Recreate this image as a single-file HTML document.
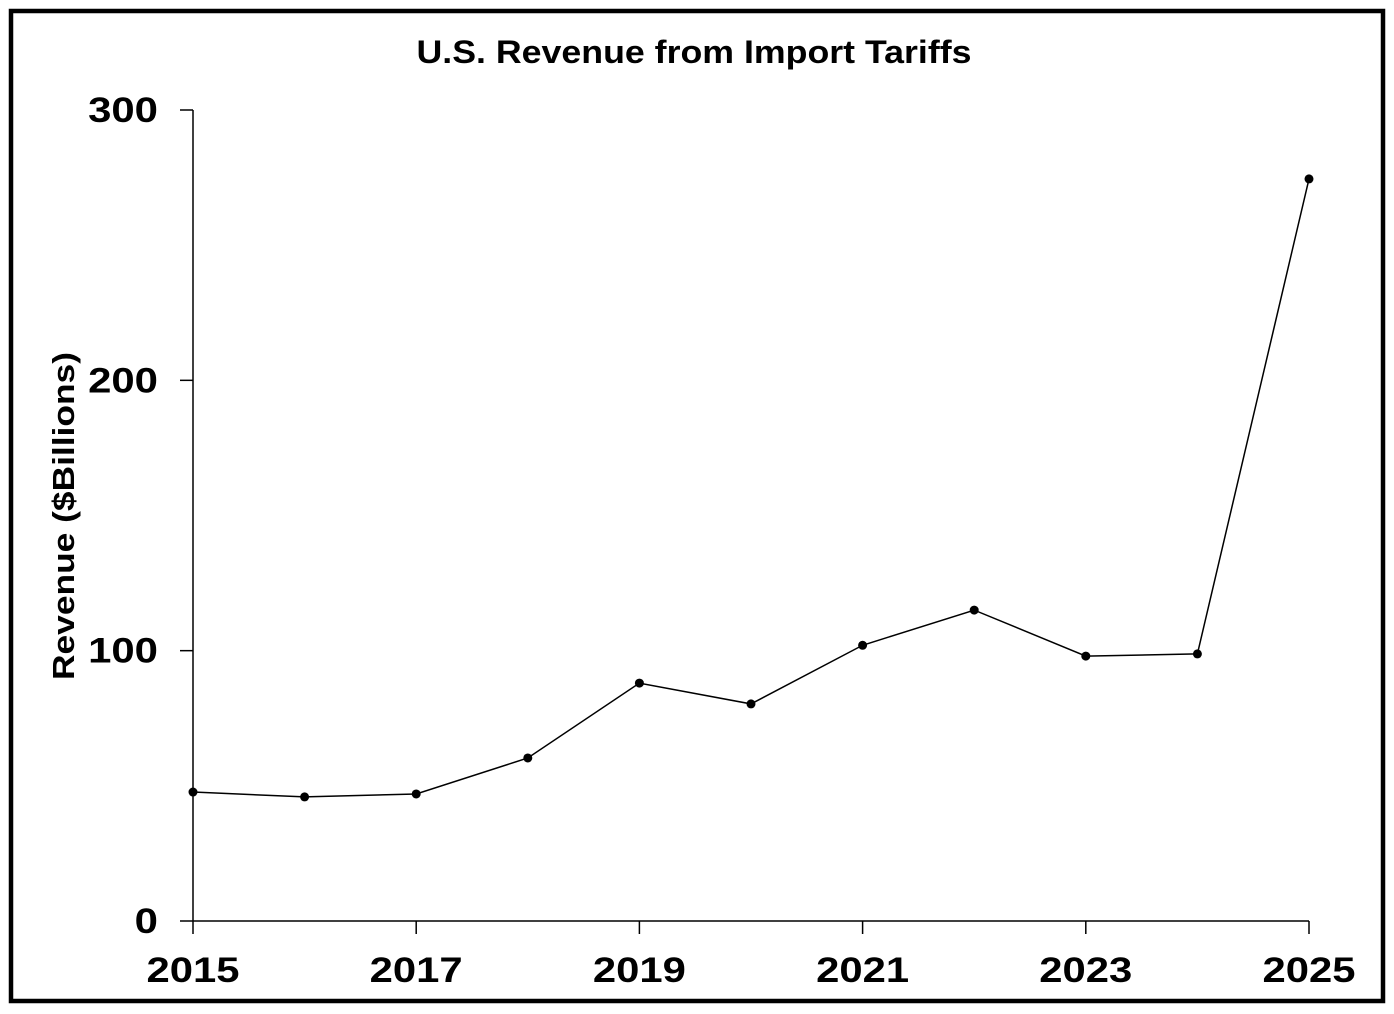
<!DOCTYPE html>
<html><head><meta charset="utf-8"><style>
html,body{margin:0;padding:0;background:#fff;}
svg{display:block;font-family:"Liberation Sans",sans-serif;}
</style></head><body>
<svg id="chart" width="1394" height="1014">
<rect x="11" y="11" width="1372" height="990" fill="#fff" stroke="#000" stroke-width="4.5"/>
<text x="694" y="63" text-anchor="middle" font-size="32" font-weight="bold" textLength="555" lengthAdjust="spacingAndGlyphs">U.S. Revenue from Import Tariffs</text>
<text transform="translate(74,516) rotate(-90)" text-anchor="middle" font-size="31" font-weight="bold" textLength="328" lengthAdjust="spacingAndGlyphs">Revenue ($Billions)</text>
<g id="axes"></g>
<g id="plot"></g>
</svg>
<script>
const years = [2015,2016,2017,2018,2019,2020,2021,2022,2023,2024,2025];
const revenue = [47.7,45.9,47,60.3,88,80.3,102,115,98,98.8,274.5];
const yTicks = [0,100,200,300];
const xTicks = [2015,2017,2019,2021,2023,2025];

const NS = "http://www.w3.org/2000/svg";
const x0=193, x1=1309, y0=921, y1=110;
const xs = v => x0 + (v-2015)/(2025-2015)*(x1-x0);
const ys = v => y0 - v/300*(y0-y1);
function mk(tag, attrs, parent){const e=document.createElementNS(NS,tag);for(const k in attrs)e.setAttribute(k,attrs[k]);parent.appendChild(e);return e;}
const axes=document.getElementById('axes'), plot=document.getElementById('plot');

const ya=mk('line',{x1:x0,y1:y1,x2:x0,y2:y0,stroke:'#000','stroke-width':1.5},axes);


const xa=mk('line',{x1:x0,y1:y0,x2:x1,y2:y0,stroke:'#000','stroke-width':1.5},axes);



yTicks.forEach(v=>{
  const t=mk('line',{x1:x0-13,y1:ys(v),x2:x0,y2:ys(v),stroke:'#000','stroke-width':1.5},axes);
  
  
  const s=String(v);
  const l=mk('text',{x:158,y:ys(v)+12,'text-anchor':'end','font-size':35,'font-weight':'bold',textLength:s.length*23.3,lengthAdjust:'spacingAndGlyphs'},axes);
  l.textContent=s;
  
  
});
xTicks.forEach(v=>{
  const t=mk('line',{x1:xs(v),y1:y0,x2:xs(v),y2:y0+13,stroke:'#000','stroke-width':1.5},axes);
  
  
  const l=mk('text',{x:xs(v),y:982,'text-anchor':'middle','font-size':35,'font-weight':'bold',textLength:93,lengthAdjust:'spacingAndGlyphs'},axes);
  l.textContent=v;
  
  
});
const pts=years.map((y,i)=>xs(y)+','+ys(revenue[i])).join(' ');
const line=mk('polyline',{points:pts,fill:'none',stroke:'#000','stroke-width':1.5},plot);


years.forEach((y,i)=>{
  const c=mk('circle',{cx:xs(y),cy:ys(revenue[i]),r:4.5,fill:'#000'},plot);
  
  
});
</script>
</body></html>
